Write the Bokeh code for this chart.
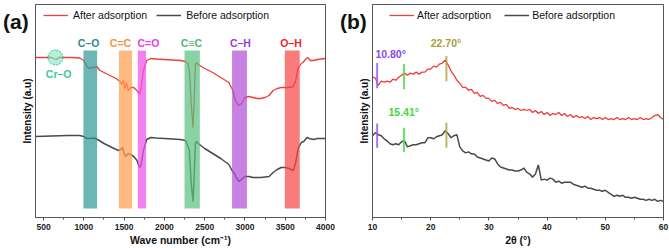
from bokeh.plotting import figure
from bokeh.layouts import row
from bokeh.models import Range1d, FixedTicker, Legend, LegendItem, Div
from bokeh.core.properties import value
from bokeh.embed import file_html
from bokeh.resources import INLINE

# ---------------- FTIR data (panel a) ----------------
wn_after = [400, 500, 600, 640, 660, 690, 750, 850, 950, 1000,
            1040, 1070, 1100, 1130, 1160, 1200, 1300, 1400, 1450, 1470,
            1490, 1510, 1530, 1550, 1580, 1620, 1660, 1690, 1710, 1740,
            1780, 1830, 1900, 2000, 2100, 2200, 2260, 2290, 2310, 2335,
            2355, 2370, 2385, 2400, 2420, 2500, 2600, 2700, 2800, 2850,
            2880, 2920, 2960, 3000, 3050, 3100, 3150, 3200, 3250, 3300,
            3350, 3400, 3450, 3500, 3550, 3600, 3630, 3660, 3700, 3720,
            3750, 3780, 3810, 3850, 3900, 4000]
int_after = [160, 160, 160, 158.5, 158, 160, 160, 160, 159.5, 157,
             151, 149, 150, 150, 151, 147, 143, 139, 136, 133,
             137, 129, 135, 127, 130, 130, 127, 123, 129, 147,
             157, 159, 158.5, 158, 157.5, 157, 156, 154, 147, 112,
             90, 117, 153, 155, 153, 149, 145, 140, 135, 127,
             117, 112, 114, 120, 121, 120, 119, 119, 120, 122,
             127, 129, 130, 130, 130, 131, 137, 149, 154, 155,
             158, 160, 157, 157, 158, 159]

wn_before = [400, 600, 800, 950, 1000, 1040, 1080, 1130, 1170, 1250,
             1350, 1430, 1460, 1480, 1500, 1520, 1550, 1580, 1620, 1660,
             1690, 1710, 1740, 1780, 1830, 1900, 2000, 2100, 2200, 2260,
             2290, 2310, 2335, 2355, 2370, 2385, 2400, 2420, 2500, 2600,
             2700, 2800, 2840, 2870, 2900, 2930, 2970, 3000, 3050, 3100,
             3200, 3300, 3350, 3400, 3450, 3500, 3550, 3600, 3630, 3660,
             3700, 3730, 3770, 3800, 3850, 3900, 4000]
int_before = [81, 81.5, 82, 82, 81, 79, 79, 79.5, 78, 74,
              70, 67, 68, 70, 64, 61, 64, 63, 61, 57,
              50, 52, 67, 78, 80, 79.5, 79, 78.5, 78, 77,
              72, 67, 32, 16, 42, 74, 76, 74, 69, 64,
              59, 53, 47, 44, 39, 36, 39, 41, 41, 40,
              40, 41, 45, 48, 50, 50, 49, 47, 55, 69,
              75, 76, 80, 79, 78, 79, 79]

band_names = ["C\u2013O", "C=C", "C=O", "C\u2261C", "C\u2013H", "O\u2013H"]
band_lo = [995, 1435, 1670, 2250, 2840, 3495]
band_hi = [1165, 1600, 1772, 2440, 3025, 3680]
band_label_wn = [1058, 1455, 1802, 2335, 2944, 3571]
band_fill = ["#349a9a", "#ffa050", "#f050f0", "#5cc080", "#b050d8", "#f84848"]
band_text = ["#2b8c8c", "#f7923a", "#e83ce8", "#4fb874", "#9c3cd0", "#e8262c"]

cro_wn = [648]
cro_int = [160]

# ---------------- XRD data (panel b) ----------------
two_theta = [10 + 0.5 * i for i in range(101)]
xrd_after = [139, 138, 131, 135, 134, 135, 134, 137, 136, 139,
             141, 143, 141, 143, 142, 144, 142, 144, 144, 147,
             147, 150, 149, 152, 153, 156, 151, 145, 141, 136,
             133, 129, 129, 126, 127, 123, 124, 120, 121, 118,
             118, 115, 116, 113, 114, 111, 112, 108, 109, 107,
             108, 106, 107, 106, 107, 104, 106, 103, 105, 102,
             104, 101, 103, 102, 104, 101, 103, 100, 102, 99,
             101, 99, 100, 98, 100, 97, 99, 98, 99, 97,
             99, 97, 98, 97, 99, 97, 98, 97, 99, 97,
             98, 97, 99, 97, 98, 97, 99, 101, 102, 99,
             97]
xrd_before = [81, 84, 82, 81, 78, 76, 73, 72, 73, 72,
              75, 76, 70, 71, 72, 72, 73, 74, 74, 79,
              79, 78, 80, 81, 82, 86, 83, 79, 81, 82,
              70, 66, 64, 65, 63, 63, 60, 59, 58, 57,
              56, 59, 58, 53, 50, 49, 48, 47, 47, 46,
              46, 47, 49, 45, 43, 40, 43, 52, 37, 38,
              37, 39, 38, 35, 36, 34, 35, 35, 35, 33,
              32, 31, 30, 31, 29, 29, 28, 27, 27, 26,
              27, 25, 23, 21, 22, 21, 22, 20, 20, 19,
              20, 19, 18, 18, 17, 18, 17, 18, 16, 17,
              16]

peak_pos = [10.80, 15.41, 22.70]
peak_labels = ["10.80\u00b0", "15.41\u00b0", "22.70\u00b0"]
peak_colors = ["#9a5cf0", "#4fe04f", "#b0a850"]
peak_text_colors = ["#8a48ea", "#3fd83f", "#a89c3c"]
peak_after_lo = [128, 127, 135]
peak_after_hi = [153, 152, 160]
peak_before_lo = [69, 65, 69]
peak_before_hi = [93, 89, 94]

FONT = "Liberation Sans"
RED = "#f03c3c"
GRAY = "#4a4a4a"
FRAME = "#555555"


def base_fig(xr, yr, width, left, right, xlabel, ticks, minor):
    p = figure(width=width, height=248, x_range=xr, y_range=yr,
               output_backend="svg", toolbar_location=None,
               min_border_left=left, min_border_right=right,
               min_border_top=4, min_border_bottom=31)
    p.grid.visible = False
    p.outline_line_color = FRAME
    p.outline_line_width = 1
    p.background_fill_color = "white"
    p.border_fill_color = "white"
    xa = p.xaxis[0]
    xa.ticker = FixedTicker(ticks=ticks, minor_ticks=minor)
    xa.axis_label = xlabel
    xa.axis_label_text_font = FONT
    xa.axis_label_text_font_size = "10.5px"
    xa.axis_label_text_font_style = "bold"
    xa.axis_label_text_color = "#111111"
    xa.axis_label_standoff = 1
    xa.major_label_text_font = FONT
    xa.major_label_text_font_size = "8.5px"
    xa.major_label_text_font_style = "bold"
    xa.major_label_text_color = "#222222"
    xa.major_label_standoff = 3
    xa.major_tick_in = 0
    xa.major_tick_out = 3
    xa.minor_tick_in = 0
    xa.minor_tick_out = 2
    xa.axis_line_color = FRAME
    xa.major_tick_line_color = FRAME
    xa.minor_tick_line_color = FRAME
    ya = p.yaxis[0]
    ya.ticker = FixedTicker(ticks=[])
    ya.minor_tick_line_color = None
    ya.major_tick_line_color = None
    ya.axis_line_color = FRAME
    ya.axis_label = "Intensity (a.u)"
    ya.axis_label_text_font = FONT
    ya.axis_label_text_font_size = "10px"
    ya.axis_label_text_font_style = "bold"
    ya.axis_label_text_color = "#111111"
    ya.axis_label_standoff = 3
    return p


def add_legend(p, r1, r2, x, y, spacing, standoff):
    lg = Legend(items=[LegendItem(label="After adsorption", renderers=[r1]),
                       LegendItem(label="Before adsorption", renderers=[r2])],
                orientation="horizontal", location=(x, y), margin=0, padding=0,
                spacing=spacing, label_standoff=standoff, glyph_width=25,
                glyph_height=12, label_height=12,
                label_text_font=FONT, label_text_font_size="10.5px",
                label_text_color="#111111",
                border_line_color=None, background_fill_alpha=0)
    p.add_layout(lg)


def panel_tag(text, left, top):
    return Div(text=text, styles={
        "position": "absolute", "left": f"{left}px", "top": f"{top}px",
        "font-family": FONT, "font-size": "21px", "font-weight": "bold",
        "line-height": "1", "color": "#111111", "z-index": "10",
        "margin": "0", "padding": "0"})


# ---------------- panel a ----------------
pa = base_fig(Range1d(400, 4000), Range1d(0, 213), 335, 35, 10,
              "Wave number (cm\u207b\u00b9)",
              [500, 1000, 1500, 2000, 2500, 3000, 3500, 4000],
              [750, 1250, 1750, 2250, 2750, 3250, 3750])
ra = pa.line(wn_after, int_after, line_color=RED, line_width=1.3)
rb = pa.line(wn_before, int_before, line_color=GRAY, line_width=1.5)
pa.quad(left=band_lo, right=band_hi, bottom=9, top=167,
        fill_color=band_fill, fill_alpha=0.72, line_color=None)
pa.text(x=band_label_wn, y=175,
        text=band_names, text_color=band_text, text_align="center",
        text_baseline="middle", text_font=value(FONT),
        text_font_size="10.5px", text_font_style="bold")
pa.scatter(cro_wn, cro_int, size=15, fill_color="#7ee6c2", fill_alpha=0.6,
           line_color="#30c090", line_dash="2 1", line_width=1)
pa.text(x=[w + 40 for w in cro_wn], y=[c - 16 for c in cro_int], text=["Cr\u2013O"],
        text_color="#3cc99a", text_align="center", text_baseline="middle",
        text_font=value(FONT), text_font_size="10.5px", text_font_style="bold")
add_legend(pa, ra, rb, 8, 196, 9, 5)

# ---------------- panel b ----------------
pb = base_fig(Range1d(10, 60), Range1d(0, 211), 334, 37, 6,
              "2\u03b8 (\u00b0)",
              [10, 20, 30, 40, 50, 60], [15, 25, 35, 45, 55])
rc = pb.line(two_theta, xrd_after, line_color=RED, line_width=1.3)
rd = pb.line(two_theta, xrd_before, line_color=GRAY, line_width=1.5)
pb.segment(x0=peak_pos, x1=peak_pos, y0=peak_after_lo, y1=peak_after_hi,
           line_color=peak_colors, line_width=2, line_alpha=0.85)
pb.segment(x0=peak_pos, x1=peak_pos, y0=peak_before_lo, y1=peak_before_hi,
           line_color=peak_colors, line_width=2, line_alpha=0.85)
pb.text(x=[10.5, 12.75, 20.0], y=[162, 105, 173], text=peak_labels,
        text_color=peak_text_colors, text_align="left", text_baseline="middle",
        text_font=value(FONT), text_font_size="10.5px", text_font_style="bold")
add_legend(pb, rc, rd, 17, 196, 13, 3)

layout = row(pa, pb, panel_tag("(a)", 3, 11), panel_tag("(b)", 340, 11))
open("out.html", "w").write(file_html(layout, INLINE))
